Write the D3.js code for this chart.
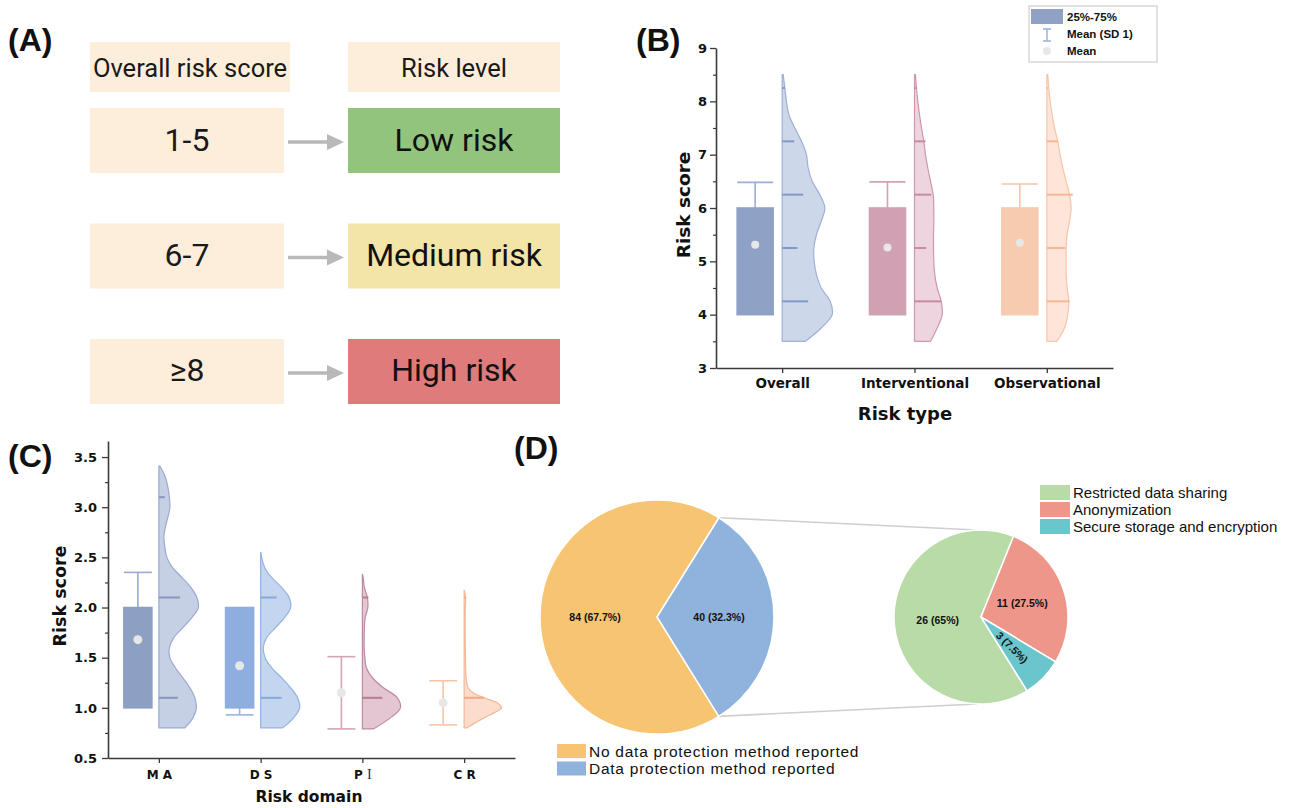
<!DOCTYPE html>
<html>
<head>
<meta charset="utf-8">
<script src="https://cdn.jsdelivr.net/npm/d3@7"></script>
<style>
html,body{margin:0;padding:0;background:#fff;}
svg{display:block;}
</style>
</head>
<body>
<svg id="chart" width="1301" height="808"></svg>
<script>
// ===================== DATA =====================
// Panel A
const headerLabels = ["Overall risk score", "Risk level"];
const scoreRanges = ["1-5", "6-7", "≥8"];
const riskLevels = ["Low risk", "Medium risk", "High risk"];
const riskLevelColors = ["#93c47d", "#f3e4a8", "#e07b7b"];

// Panel B
const riskTypes = ["Overall", "Interventional", "Observational"];
const typeQ1 = [4, 4, 4];
const typeQ3 = [6, 6, 6];
const typeMean = [5.31, 5.26, 5.35];
const typeSD = [1.17, 1.23, 1.10];
const typeGrid = [3.5, 3.75, 4, 4.25, 4.5, 4.75, 5, 5.25, 5.5, 5.75, 6, 6.25, 6.5, 6.75, 7, 7.25, 7.5, 7.75, 8, 8.25, 8.5];
const overallDensity = [23.3, 39, 50, 48, 39, 34.3, 32, 31.7, 34.3, 39, 42.7, 37.7, 30, 26, 24.3, 19.3, 12.7, 6.7, 4.3, 2.7, 1];
const interventionalDensity = [16, 22.7, 27.7, 26.7, 22.7, 20.3, 19.3, 19, 19, 19.3, 19.3, 18.7, 16, 13.3, 11, 9.3, 7, 5, 3.3, 2, 1];
const observationalDensity = [10, 17.7, 21, 22, 20.3, 19.3, 19.3, 19.3, 20.3, 22.7, 24.3, 22.7, 19.3, 16, 13.3, 11, 7.7, 5.3, 3.3, 2, 1];
const typeRugValues = [4.25, 5.25, 6.25, 7.25, 8.25];
const overallRug = [26, 15.3, 21, 12, 2.7];
const interventionalRug = [26.7, 11.7, 16.7, 11, 2];
const observationalRug = [22.7, 18.7, 26, 11, 1.3];
const typeTicks = [3, 4, 5, 6, 7, 8, 9];
const typeMinorTicks = [3.5, 4.5, 5.5, 6.5, 7.5, 8.5];

// Panel C
const riskDomains = ["M A", "D S", "P I", "C R"];
const domainQ1 = [1, 1, 1, 1];
const domainQ3 = [2, 2, 1, 1];
const domainMean = [1.68, 1.42, 1.15, 1.05];
const domainSD = [0.67, 0.49, 0.36, 0.22];
const maGrid = [0.8, 0.9, 1.0, 1.1, 1.2, 1.3, 1.4, 1.5, 1.6, 1.7, 1.8, 1.9, 2.0, 2.1, 2.2, 2.3, 2.4, 2.5, 2.6, 2.7, 2.8, 2.9, 3.0, 3.1, 3.2, 3.3, 3.41];
const maDensity = [26, 34, 37.5, 36, 31, 24, 16.5, 11, 10.5, 15, 24, 33, 39.5, 38, 32, 23, 13.5, 8, 6, 5, 6.5, 9, 11, 10.5, 9, 6.5, 1];
const dsGrid = [0.8, 0.9, 1.0, 1.1, 1.2, 1.3, 1.4, 1.5, 1.6, 1.7, 1.8, 1.9, 2.0, 2.1, 2.2, 2.3, 2.4, 2.5, 2.55];
const dsDensity = [22, 33, 39, 37, 30, 21, 11, 4.5, 2.7, 6, 15, 24, 30, 28.5, 21, 11, 4, 1, 0.3];
const piGrid = [0.79, 0.9, 1.0, 1.1, 1.2, 1.3, 1.4, 1.5, 1.6, 1.7, 1.8, 1.9, 2.0, 2.1, 2.2, 2.3, 2.33];
const piDensity = [11, 28, 38, 35, 21, 10, 4, 2.5, 1.8, 1.8, 2, 2.8, 5.5, 5, 2, 0.8, 0.2];
const crGrid = [0.8, 0.85, 0.9, 0.95, 1.0, 1.05, 1.1, 1.15, 1.2, 1.3, 1.4, 1.6, 1.8, 2.0, 2.1, 2.17];
const crDensity = [2.7, 11, 20, 30, 37.5, 33, 20, 9, 4, 2, 1.5, 1.2, 1, 1.2, 1.5, 0.2];
const domainRugValues = [[3.1, 2.1, 1.1], [2.1, 1.1], [2.1, 1.1], [2.1, 1.1]];
const domainRugLengths = [[6, 21, 19], [16, 21], [6, 20], [2, 20]];
const domainTicks = [0.5, 1.0, 1.5, 2.0, 2.5, 3.0, 3.5];
const domainMinorTicks = [0.75, 1.25, 1.75, 2.25, 2.75, 3.25];

// Panel D
const protectionLabels = ["No data protection method reported", "Data protection method reported"];
const protectionCounts = [84, 40];
const methodLabels = ["Restricted data sharing", "Anonymization", "Secure storage and encryption"];
const methodCounts = [26, 11, 3];

// ===================== STYLE =====================
const AXF = "'DejaVu Sans', Verdana, sans-serif";
const ARF = "'Liberation Sans', Arial, sans-serif";
const RBF = "Roboto, 'Noto Sans', sans-serif";
const PEACH = "#fdeedc";

const typeColors = [
  {box: "#8fa2c6", whisk: "#9aaed6", vfill: "#cdd7ea", vstroke: "#9db0d7", rug: "#8198c6"},
  {box: "#d0a1b3", whisk: "#d3a1b4", vfill: "#eed4df", vstroke: "#cd98ae", rug: "#c88ba4"},
  {box: "#f7cbb0", whisk: "#f6c6aa", vfill: "#fde6d9", vstroke: "#f7c5a9", rug: "#f4b896"}
];
const domainColors = [
  {box: "#8e9fc4", whisk: "#9aaad2", vfill: "#c6d0e4", vstroke: "#9aabd1", rug: "#8596c1"},
  {box: "#8eaee0", whisk: "#97b4e2", vfill: "#c4d5ef", vstroke: "#95b3e2", rug: "#88a8dc"},
  {box: "#d4a5b7", whisk: "#d4a5b7", vfill: "#e4c6d3", vstroke: "#be8ba2", rug: "#b87a94"},
  {box: "#f6c4a9", whisk: "#f6c4a9", vfill: "#fcdccb", vstroke: "#f5b89a", rug: "#f0aa88"}
];
const protectionColors = ["#f7c472", "#8fb3dc"];
const methodColors = ["#b8dba8", "#ef968a", "#6ac5cd"];

const svg = d3.select("#chart");

// panel letters
[["(A)", 8, 51], ["(B)", 636, 51], ["(C)", 8, 467], ["(D)", 514, 459]].forEach(([t, x, y]) => {
  svg.append("text").attr("x", x).attr("y", y).text(t)
    .attr("font-family", ARF).attr("font-weight", "bold").attr("font-size", 32).attr("fill", "#111");
});

// ===================== PANEL A =====================
(function () {
  const g = svg.append("g");
  const headerX = [[90, 200], [348, 212]];
  headerLabels.forEach((t, i) => {
    g.append("rect").attr("x", headerX[i][0]).attr("y", 42).attr("width", headerX[i][1]).attr("height", 50).attr("fill", PEACH);
    g.append("text").attr("x", headerX[i][0] + headerX[i][1] / 2).attr("y", 77)
      .attr("text-anchor", "middle").attr("font-family", RBF).attr("font-size", 25.5).attr("fill", "#1a1a1a").text(t);
  });
  const rowY = d3.scaleBand().domain(scoreRanges).range([108, 404]).paddingInner(0.437);
  scoreRanges.forEach((s, i) => {
    const y0 = rowY(s), h = rowY.bandwidth(), cy = y0 + h / 2;
    g.append("rect").attr("x", 90).attr("y", y0).attr("width", 194).attr("height", h).attr("fill", PEACH);
    g.append("text").attr("x", 187).attr("y", cy + 10).attr("text-anchor", "middle")
      .attr("font-family", RBF).attr("font-size", 32).attr("fill", "#1a1a1a").text(s);
    g.append("rect").attr("x", 348).attr("y", y0).attr("width", 212).attr("height", h).attr("fill", riskLevelColors[i]);
    g.append("text").attr("x", 454).attr("y", cy + 10).attr("text-anchor", "middle")
      .attr("font-family", RBF).attr("font-size", 32).attr("fill", "#111").text(riskLevels[i]);
    // arrow
    g.append("line").attr("x1", 288).attr("x2", 329).attr("y1", cy + 1.5).attr("y2", cy + 1.5)
      .attr("stroke", "#b9b9b9").attr("stroke-width", 3.5);
    g.append("path").attr("d", `M327,${cy - 6.5}L344,${cy + 1.5}L327,${cy + 9.5}Z`).attr("fill", "#b9b9b9");
  });
})();

// ===================== RAINCLOUD helper =====================
function raincloud(g, x, y, cats, q1, q3, mean, sd, grids, dens, rugVals, rugLens, colors, boxW, boxOff, dotR) {
  const wScale = d3.scaleLinear().domain([0, 50]).range([0, 50]);
  cats.forEach((c, i) => {
    const cx = x(c);
    const bx = cx - boxOff;
    const col = colors[i];
    const pts = grids[i].map((v, j) => ({v: v, w: dens[i][j]}));
    const area = d3.area().y(d => y(d.v)).x0(cx).x1(d => cx + wScale(d.w)).curve(d3.curveCatmullRom.alpha(0.5));
    g.append("path").attr("d", area(pts)).attr("fill", col.vfill).attr("stroke", col.vstroke)
      .attr("stroke-width", 1.2).attr("stroke-linejoin", "round");
    rugVals[i].forEach((v, j) => {
      g.append("line").attr("x1", cx).attr("x2", cx + wScale(rugLens[i][j]))
        .attr("y1", y(v)).attr("y2", y(v)).attr("stroke", col.rug).attr("stroke-width", 2);
    });
    const lo = mean[i] - sd[i], hi = mean[i] + sd[i];
    g.append("line").attr("x1", bx).attr("x2", bx).attr("y1", y(lo)).attr("y2", y(hi))
      .attr("stroke", col.whisk).attr("stroke-width", 1.6);
    [lo, hi].forEach(v => {
      g.append("line").attr("x1", bx - boxW / 2).attr("x2", bx + boxW / 2).attr("y1", y(v)).attr("y2", y(v))
        .attr("stroke", col.whisk).attr("stroke-width", 1.6);
    });
    g.append("rect").attr("x", bx - boxW / 2).attr("width", boxW)
      .attr("y", y(q3[i])).attr("height", Math.max(0, y(q1[i]) - y(q3[i])))
      .attr("fill", col.box).attr("stroke", col.box).attr("stroke-width", 1.6);
    g.append("circle").attr("cx", bx).attr("cy", y(mean[i])).attr("r", dotR).attr("fill", "#e7e7e7");
  });
}

function styleAxis(sel, fs) {
  sel.select(".domain").attr("stroke", "#3a3a3a").attr("stroke-width", 1.6);
  sel.selectAll(".tick line").attr("stroke", "#3a3a3a").attr("stroke-width", 1.3);
  sel.selectAll(".tick text").attr("font-family", AXF).attr("font-weight", "bold").attr("font-size", fs).attr("fill", "#111");
}

// ===================== PANEL B =====================
(function () {
  const g = svg.append("g");
  const x = d3.scalePoint().domain(riskTypes).range([716, 1113]).padding(0.5);
  const y = d3.scaleLinear().domain([3, 9]).range([368, 48]);
  raincloud(g, x, y, riskTypes, typeQ1, typeQ3, typeMean, typeSD,
    [typeGrid, typeGrid, typeGrid], [overallDensity, interventionalDensity, observationalDensity],
    [typeRugValues, typeRugValues, typeRugValues], [overallRug, interventionalRug, observationalRug],
    typeColors, 36, 27, 4);
  const ym = g.append("g").attr("transform", "translate(716,0)")
    .call(d3.axisLeft(y).tickValues(typeMinorTicks).tickSize(3).tickFormat("").tickSizeOuter(0));
  ym.select(".domain").remove();
  ym.selectAll(".tick line").attr("stroke", "#3a3a3a").attr("stroke-width", 1.2);
  const ya = g.append("g").attr("transform", "translate(716,0)")
    .call(d3.axisLeft(y).tickValues(typeTicks).tickFormat(d3.format("d")).tickSize(6).tickPadding(3).tickSizeOuter(0));
  styleAxis(ya, 13);
  const xa = g.append("g").attr("transform", "translate(0,368)")
    .call(d3.axisBottom(x).tickSize(5).tickPadding(5).tickSizeOuter(0));
  styleAxis(xa, 13.5);
  g.append("text").attr("x", 905).attr("y", 420).attr("text-anchor", "middle")
    .attr("font-family", AXF).attr("font-weight", "bold").attr("font-size", 18).attr("fill", "#111").text("Risk type");
  g.append("text").attr("transform", "translate(690,205) rotate(-90)").attr("text-anchor", "middle")
    .attr("font-family", AXF).attr("font-weight", "bold").attr("font-size", 18.5).attr("fill", "#111").text("Risk score");
  // legend
  const lg = g.append("g");
  lg.append("rect").attr("x", 1029).attr("y", 6).attr("width", 128).attr("height", 56)
    .attr("fill", "#fff").attr("stroke", "#c4c4c4").attr("stroke-width", 1);
  lg.append("rect").attr("x", 1031).attr("y", 9).attr("width", 32).attr("height", 15).attr("fill", typeColors[0].box);
  lg.append("path").attr("d", "M1043,29H1051M1047,29V41M1043,41H1051").attr("stroke", typeColors[0].whisk).attr("stroke-width", 1.4).attr("fill", "none");
  lg.append("circle").attr("cx", 1047).attr("cy", 51).attr("r", 4).attr("fill", "#e7e7e7");
  ["25%-75%", "Mean (SD 1)", "Mean"].forEach((t, i) => {
    lg.append("text").attr("x", 1067).attr("y", 21 + i * 17).text(t)
      .attr("font-family", ARF).attr("font-weight", "bold").attr("font-size", 11.5).attr("fill", "#111");
  });
})();

// ===================== PANEL C =====================
(function () {
  const g = svg.append("g");
  const x = d3.scalePoint().domain(riskDomains).range([108, 515]).padding(0.5);
  const y = d3.scaleLinear().domain([0.5, 3.66]).range([758, 441]);
  raincloud(g, x, y, riskDomains, domainQ1, domainQ3, domainMean, domainSD,
    [maGrid, dsGrid, piGrid, crGrid], [maDensity, dsDensity, piDensity, crDensity],
    domainRugValues, domainRugLengths, domainColors, 28, 21, 4.5);
  const ym = g.append("g").attr("transform", "translate(108,0)")
    .call(d3.axisLeft(y).tickValues(domainMinorTicks).tickSize(3).tickFormat("").tickSizeOuter(0));
  ym.select(".domain").remove();
  ym.selectAll(".tick line").attr("stroke", "#3a3a3a").attr("stroke-width", 1.2);
  const ya = g.append("g").attr("transform", "translate(108,0)")
    .call(d3.axisLeft(y).tickValues(domainTicks).tickFormat(d3.format(".1f")).tickSize(6).tickPadding(5).tickSizeOuter(0));
  styleAxis(ya, 13);
  const xa = g.append("g").attr("transform", "translate(0,758)")
    .call(d3.axisBottom(x).tickSize(5).tickPadding(7).tickSizeOuter(0));
  styleAxis(xa, 12);
  xa.selectAll(".tick text").filter(d => d === "P I").each(function () {
    const t = d3.select(this);
    t.text("P ");
    t.append("tspan").attr("font-family", "'Liberation Serif', 'DejaVu Serif', serif").attr("font-weight", "normal")
      .attr("font-size", 14).attr("fill", "#1b2a6e").text("I");
  });
  g.append("text").attr("x", 309).attr("y", 802).attr("text-anchor", "middle")
    .attr("font-family", AXF).attr("font-weight", "bold").attr("font-size", 15.5).attr("fill", "#111").text("Risk domain");
  g.append("text").attr("transform", "translate(66,596) rotate(-90)").attr("text-anchor", "middle")
    .attr("font-family", AXF).attr("font-weight", "bold").attr("font-size", 17.5).attr("fill", "#111").text("Risk score");
})();

// ===================== PANEL D =====================
(function () {
  const g = svg.append("g");
  const deg = Math.PI / 180;
  const big = {cx: 657, cy: 617, r: 117};
  const small = {cx: 981, cy: 617, r: 87};
  const fmt = (n, tot) => `${n} (${+(n / tot * 100).toFixed(1)}%)`;

  const bigStart = 148.1 * deg;
  const pieBig = d3.pie().sort(null).startAngle(bigStart).endAngle(bigStart + 2 * Math.PI);
  const bigArcs = pieBig(protectionCounts);
  const smallStart = 148 * deg;
  const pieSmall = d3.pie().sort(null).startAngle(smallStart).endAngle(smallStart + 2 * Math.PI);
  const smallArcs = pieSmall(methodCounts);

  // connector lines
  const bl = bigArcs[1];
  const p1 = [big.cx + big.r * Math.sin(bl.startAngle), big.cy - big.r * Math.cos(bl.startAngle)];
  const p2 = [big.cx + big.r * Math.sin(bl.endAngle), big.cy - big.r * Math.cos(bl.endAngle)];
  g.append("line").attr("x1", p1[0]).attr("y1", p1[1]).attr("x2", small.cx - 4).attr("y2", small.cy - small.r)
    .attr("stroke", "#cfcfcf").attr("stroke-width", 1.6);
  g.append("line").attr("x1", p2[0]).attr("y1", p2[1]).attr("x2", small.cx - 4).attr("y2", small.cy + small.r)
    .attr("stroke", "#cfcfcf").attr("stroke-width", 1.6);

  const drawPie = (arcs, c, colors, total, rot, lr) => {
    const arc = d3.arc().innerRadius(0).outerRadius(c.r);
    const lab = d3.arc().innerRadius(c.r * lr).outerRadius(c.r * lr);
    const pg = g.append("g").attr("transform", `translate(${c.cx},${c.cy})`);
    pg.selectAll("path").data(arcs).join("path").attr("d", arc)
      .attr("fill", (d, i) => colors[i]).attr("stroke", "#fff").attr("stroke-width", 1.5);
    arcs.forEach((d, i) => {
      const [lx, ly] = lab.centroid(d);
      const span = (d.endAngle - d.startAngle) / deg;
      const mid = (d.startAngle + d.endAngle) / 2 / deg;
      const t = pg.append("text").attr("text-anchor", "middle").attr("dy", "0.35em")
        .attr("font-family", ARF).attr("font-weight", "bold").attr("font-size", 10.5).attr("fill", "#111")
        .text(fmt(d.data, total));
      if (rot && span < 40) t.attr("transform", `translate(${lx},${ly}) rotate(${mid - 90})`);
      else t.attr("transform", `translate(${lx},${ly})`);
    });
  };
  drawPie(bigArcs, big, protectionColors, d3.sum(protectionCounts), false, 0.53);
  drawPie(smallArcs, small, methodColors, d3.sum(methodCounts), true, 0.5);

  // legends
  protectionLabels.forEach((t, i) => {
    g.append("rect").attr("x", 557).attr("y", 744 + i * 17.5).attr("width", 29).attr("height", 14).attr("fill", protectionColors[i]);
    g.append("text").attr("x", 589).attr("y", 756.5 + i * 17.5).text(t)
      .attr("font-family", ARF).attr("font-size", 15.5).attr("letter-spacing", 0.75).attr("fill", "#111");
  });
  methodLabels.forEach((t, i) => {
    g.append("rect").attr("x", 1040).attr("y", 485 + i * 17).attr("width", 30).attr("height", 15).attr("fill", methodColors[i]);
    g.append("text").attr("x", 1073).attr("y", 497.5 + i * 17).text(t)
      .attr("font-family", ARF).attr("font-size", 15).attr("fill", "#111");
  });
})();
</script>
</body>
</html>
